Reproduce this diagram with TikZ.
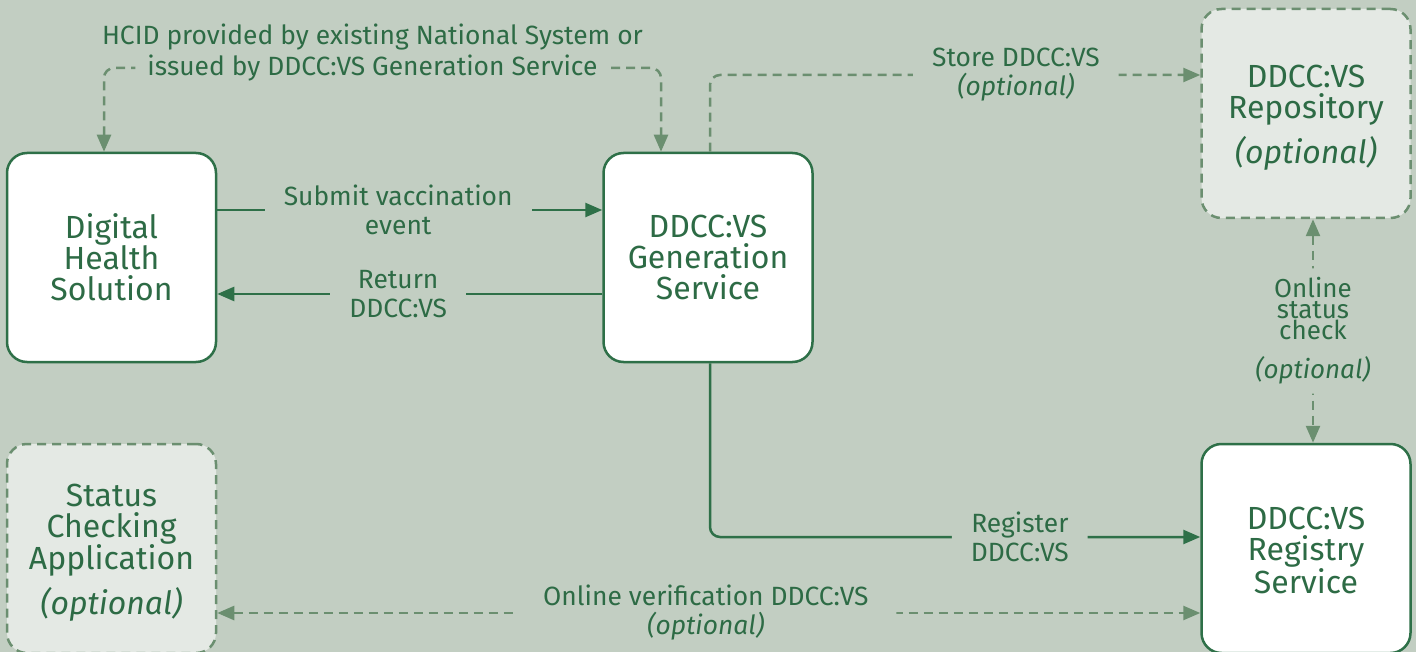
\documentclass[tikz,border=0pt]{standalone}
\usepackage{fontspec}
\setmainfont{Fira Sans}
\usetikzlibrary{arrows.meta}
\definecolor{bg}{HTML}{C2CEC2}
\definecolor{tgreen}{HTML}{2D6B45}
\definecolor{bgreen}{HTML}{2E7048}
\definecolor{dgreen}{HTML}{6B8F70}
\definecolor{optfill}{HTML}{E4E9E4}
\tikzset{
  mytip/.tip={Triangle[length=17pt,width=14pt]},
  sysbox/.style={draw=bgreen, line width=2.5pt, fill=white, rounded corners=20pt,
    minimum width=209pt, minimum height=209pt, align=center, text=tgreen,
    font=\fontsize{32}{31}\selectfont, inner sep=0pt},
  optbox/.style={sysbox, draw=dgreen, fill=optfill, dash pattern=on 9pt off 6pt},
  solidconn/.style={draw=bgreen, line width=2.5pt, -{mytip}},
  dashconn/.style={draw=dgreen, line width=2.5pt, dash pattern=on 9pt off 6pt,
    rounded corners=10pt},
  lbl/.style={fill=bg, text=tgreen, align=center, font=\fontsize{26.4}{29}\selectfont,
    inner xsep=19pt, inner ysep=0pt},
  lblplain/.style={text=tgreen, align=center, font=\fontsize{26.4}{29}\selectfont, inner sep=0pt},
}
\begin{document}
\begin{tikzpicture}[x=1pt,y=-1pt]
\useasboundingbox (0,0) rectangle (1416,652);
\fill[bg] (0,0) rectangle (1416,652);
% boxes
\node[sysbox] (dhs) at (111.5,257.5) {Digital\\Health\\Solution};
\node[sysbox] (gen) at (708,257.5) {DDCC:VS\\Generation\\Service};
\node[optbox] (repo) at (1306,113.5) {\rule{0pt}{31pt}DDCC:VS\\Repository\\[10pt]\textit{(optional)}};
\node[sysbox] (reg) at (1306,548.5) {\rule{0pt}{26pt}DDCC:VS\\Registry\\Service};
\node[optbox] (sca) at (111.5,548.5) {\rule{0pt}{31pt}Status\\Checking\\Application\\[10pt]\textit{(optional)}};
% submit / return
\draw[solidconn] ([yshift=47.5pt]dhs.east) -- node[lbl, pos=0.47] (lsub) {Submit vaccination\\event} ([yshift=47.5pt]gen.west);
\draw[solidconn] ([yshift=-36.5pt]gen.west) -- node[lbl, pos=0.53] (lret) {Return\\DDCC:VS} ([yshift=-36.5pt]dhs.east);
% HCID
\draw[dashconn, {mytip}-{mytip}] ([xshift=-7.5pt]dhs.north) |- node[pos=0.741, fill=bg, text=tgreen, font=\fontsize{26.4}{29}\selectfont, inner xsep=12pt, inner ysep=0pt, anchor=center] (lhcid2) {issued by DDCC:VS Generation Service} (661,68) -- ([xshift=-47pt]gen.north);
\node[lblplain, anchor=base] (lhcid1) at ([yshift=31pt]lhcid2.base) {HCID provided by existing National System or};
% store
\draw[dashconn, -{mytip}] ([xshift=2pt]gen.north) |- node[lbl, pos=0.812] (lstore) {Store DDCC:VS\\\textit{(optional)}} ([yshift=38.5pt]repo.west);
% register
\draw[solidconn, rounded corners=10pt] ([xshift=2pt]gen.south) |- node[lbl, pos=0.816] (lreg) {Register\\DDCC:VS} ([yshift=11.5pt]reg.west);
% online verification
\draw[dashconn, {mytip}-{mytip}] ([yshift=-64.5pt]sca.east) -- node[lbl, pos=0.497, inner xsep=28pt] (lver) {Online verification DDCC:VS\\\textit{(optional)}} ([yshift=-64.5pt]reg.west);
% status check
\draw[dashconn, {mytip}-{mytip}] ([xshift=7pt]repo.south) -- node[lbl, pos=0.5, inner xsep=4pt, inner ysep=9pt, font=\fontsize{26}{21}\selectfont] (lchk) {Online\\status\\check\\[16pt]\textit{(optional)}} ([xshift=7pt]reg.north);
\end{tikzpicture}
\end{document}
